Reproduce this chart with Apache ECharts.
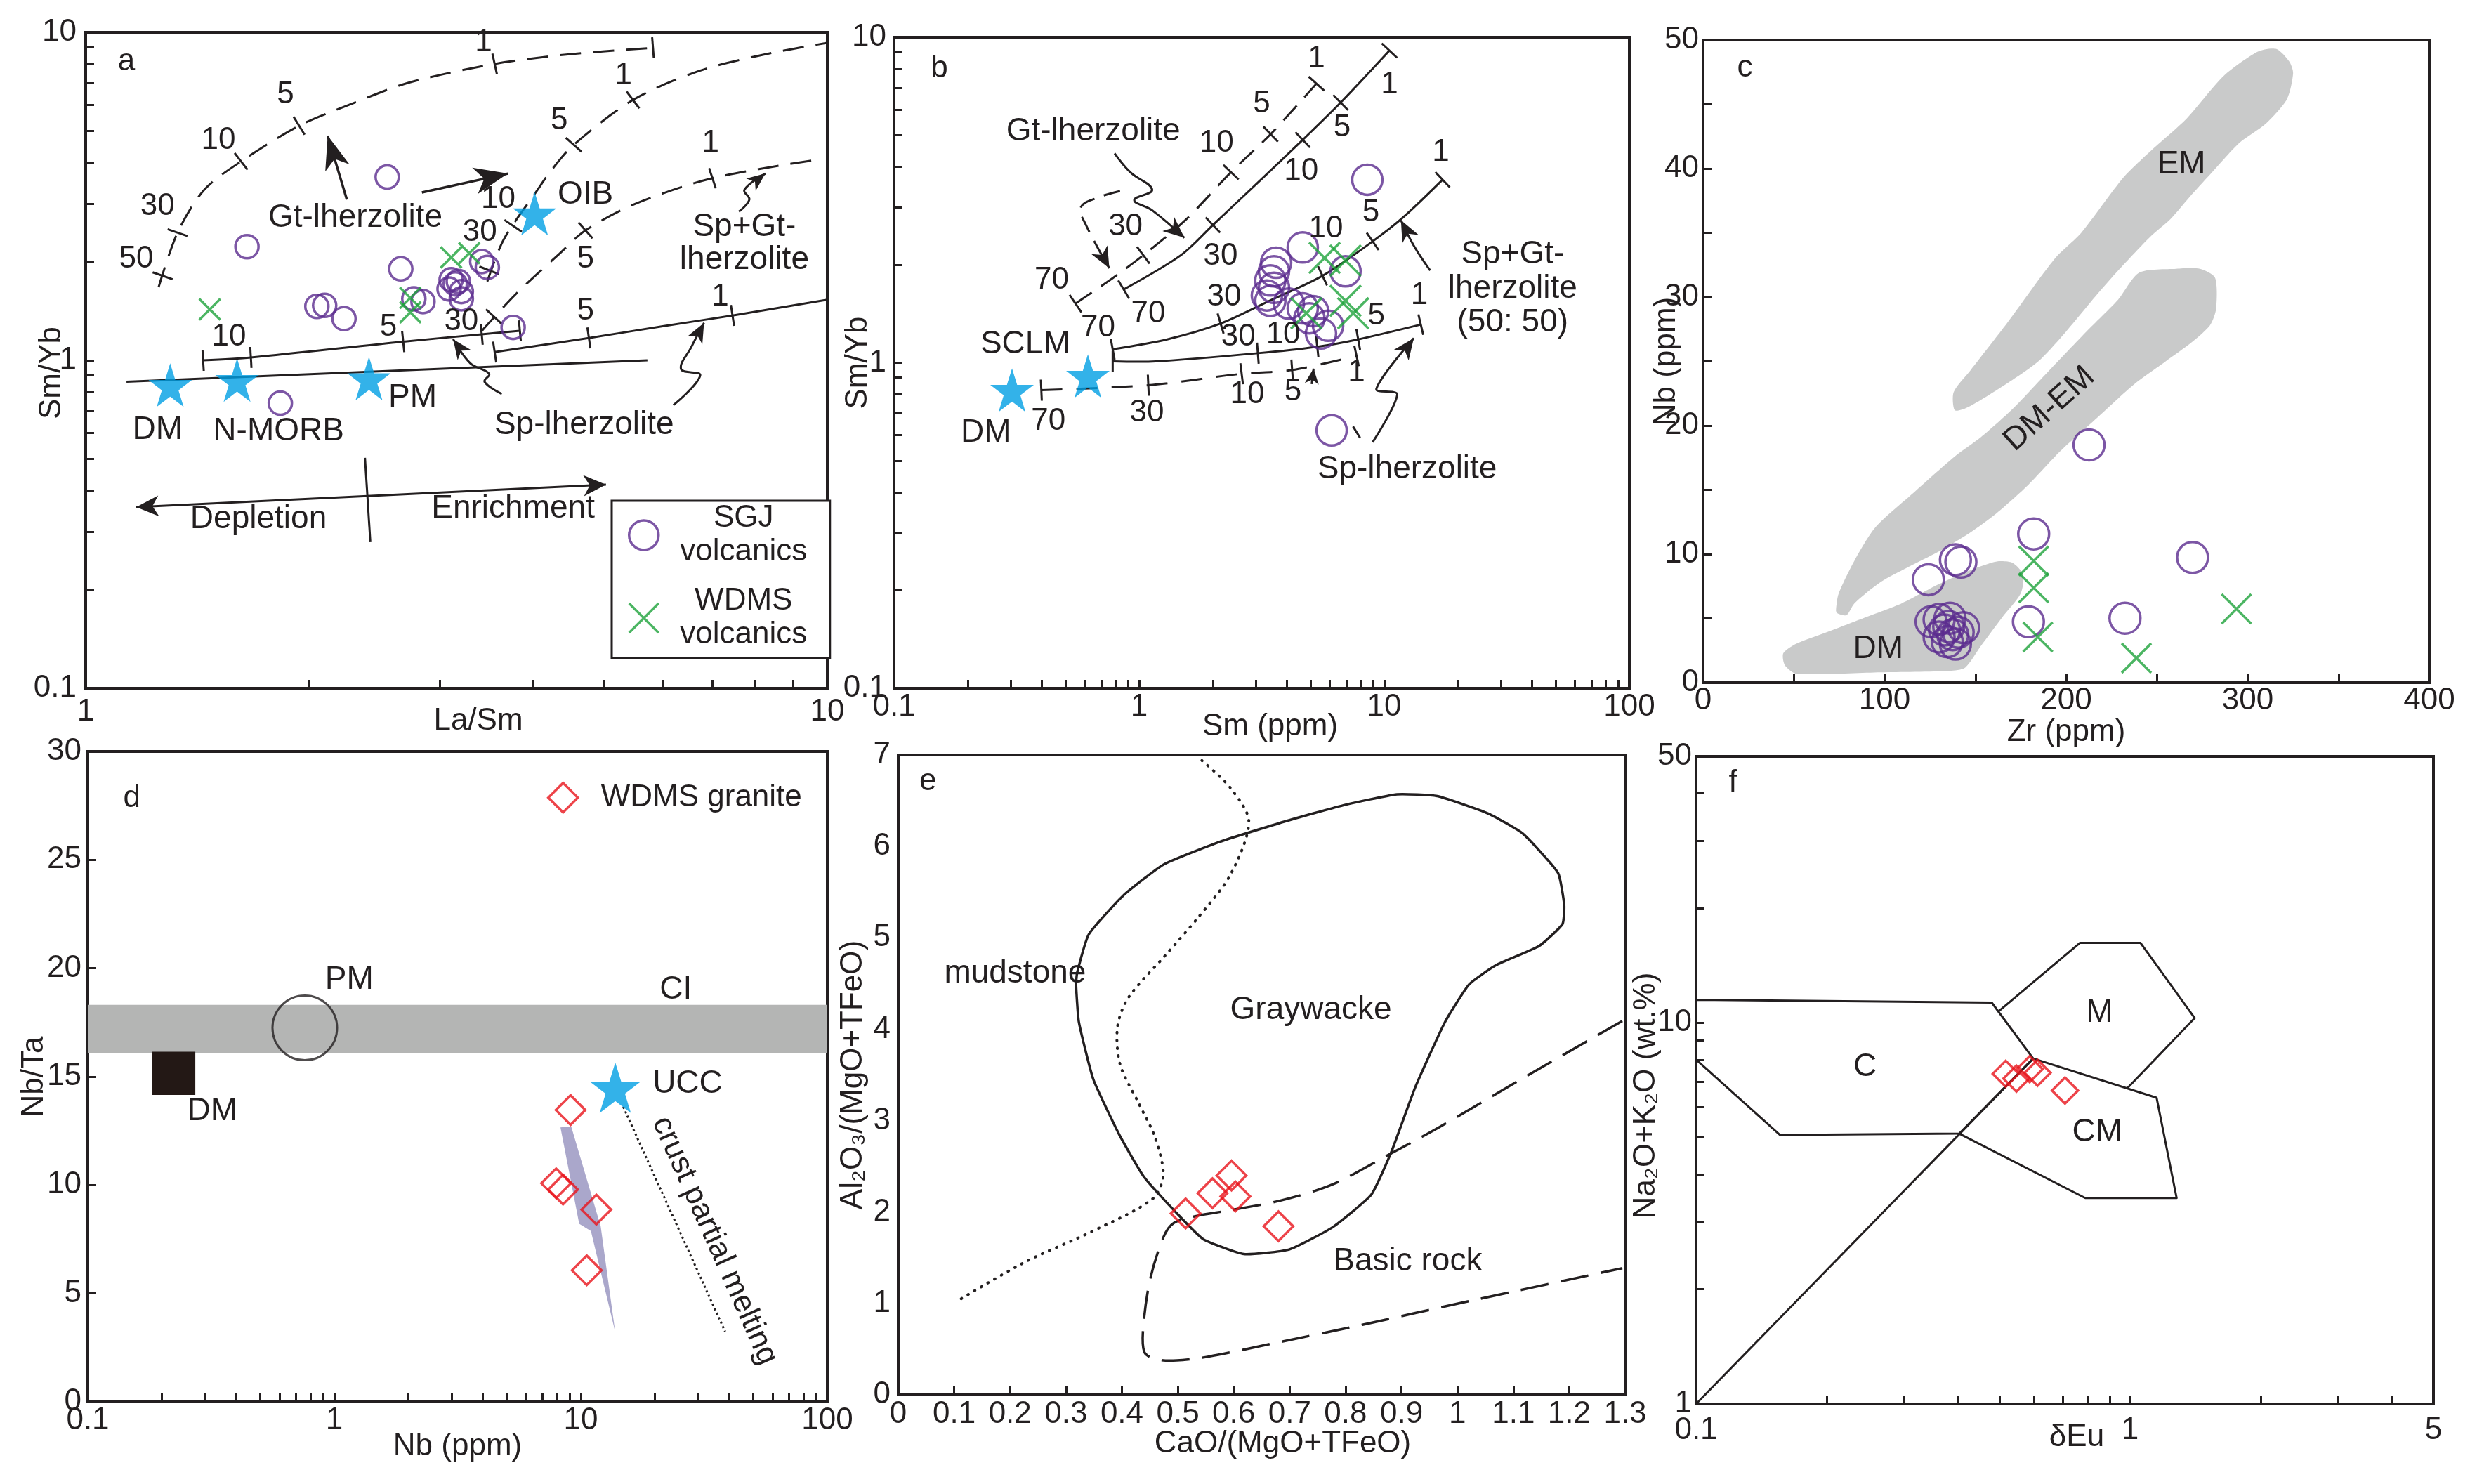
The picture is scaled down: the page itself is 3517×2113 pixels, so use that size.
<!DOCTYPE html>
<html><head><meta charset="utf-8"><title>Geochemical diagrams</title>
<script src="https://cdn.jsdelivr.net/npm/echarts@6.0.0/dist/echarts.min.js"></script>
<style>html,body{margin:0;padding:0;background:#fff;}#chart{width:3517px;height:2113px;}</style>
</head><body><div id="chart"></div>
<script>
// ================= DATA =================
// ---- Panel a : Sm/Yb vs La/Sm ----
const aXTicks = [1,2,3,4,5,6,7,8,9,10];
const aXLabels = [1,10];
const aYTicks = [0.1,0.2,0.3,0.4,0.5,0.6,0.7,0.8,0.9,1,2,3,4,5,6,7,8,9,10];
const aYLabels = [0.1,1,10];
const aSGJ = [[2.55,3.62],[1.65,2.22],[2.66,1.90],[2.05,1.46],[2.10,1.47],[2.23,1.34],[2.77,1.54],[2.85,1.51],[3.11,1.76],[3.18,1.74],[3.15,1.71],[3.09,1.65],[3.21,1.62],[3.21,1.54],[3.42,2.00],[3.48,1.92],[3.77,1.26],[1.83,0.74]];
const aWDMS = [[1.47,1.43],[3.11,2.06],[3.29,2.12],[2.74,1.55],[2.74,1.40]];
const aRefStars = [[1.30,0.84],[1.60,0.87],[2.41,0.88],[4.03,2.80]];
const aCurveGt = [[1.254,1.67],[1.33,2.45],[1.445,3.31],[1.62,4.04],[1.94,5.19],[2.27,6.02],[2.72,7.01],[3.56,8.01],[4.42,8.54],[5.82,8.97]];
const aTicksGt = [[1.27,1.81],[1.33,2.45],[1.62,4.04],[1.94,5.19],[3.56,8.01],[5.82,8.97]];
const aCurveMid = [[3.48,1.74],[3.66,2.33],[4.06,3.29],[4.25,3.81],[4.55,4.54],[5.47,6.22],[6.71,7.62],[8.19,8.54],[10,9.29]];
const aTicksMid = [[3.50,1.88],[3.77,2.57],[4.55,4.54],[5.47,6.22]];
const aCurveSpGt = [[3.41,1.22],[3.80,1.59],[4.35,2.11],[4.72,2.49],[5.49,2.99],[7.00,3.59],[9.84,4.11]];
const aTicksSpGt = [[3.55,1.36],[4.72,2.49],[7.00,3.59]];
const aCurveSp1 = [[1.44,1.00],[1.67,1.02],[2.68,1.14],[3.42,1.20],[3.85,1.23]];
const aTicksSp1 = [[1.44,1.00],[1.67,1.02],[2.68,1.14],[3.42,1.20],[3.85,1.23]];
const aCurveSp2 = [[3.56,1.06],[4.77,1.17],[6.0,1.27],[7.45,1.37],[10,1.53]];
const aTicksSp2 = [[3.56,1.06],[4.77,1.17],[7.45,1.37]];
const aMantle = [[1.135,0.86],[5.72,1.0]];
const aTrend = [[1.17,0.357],[5.03,0.418]];
const aTrendBar = [[2.38,0.504],[2.42,0.279]];
const aArrowGt = [[2.25,3.09],[2.12,4.84]];
const aArrowOIB = [[2.84,3.25],[3.71,3.71]];
const aArrowSp1 = [[3.64,0.79],[3.45,0.86],[3.50,0.91],[3.30,0.98],[3.13,1.16]];
const aArrowSp2 = [[6.20,0.73],[6.74,0.90],[6.35,0.94],[6.56,1.10],[6.82,1.30]];
const aArrowSpGt = [[7.60,2.84],[7.85,3.09],[7.73,3.31],[8.25,3.71]];
const aNumbers = [[3.44,9.29,'1'],[1.86,6.45,'5'],[1.51,4.69,'10'],[1.25,2.94,'30'],[1.17,2.04,'50'],
  [5.31,7.36,'1'],[4.35,5.37,'5'],[3.60,3.09,'10'],[3.40,2.45,'30'],[6.96,4.59,'1'],[4.72,2.04,'5'],
  [1.56,1.18,'10'],[2.56,1.26,'5'],[3.21,1.31,'30'],[4.72,1.41,'5'],[7.17,1.56,'1']];
const aTexts = [[2.31,2.72,'Gt-lherzolite'],[4.72,3.20,'OIB'],[7.73,2.55,'Sp+Gt-'],[7.73,2.02,'lherzolite'],
  [1.25,0.614,'DM'],[1.82,0.608,'N-MORB'],[2.76,0.768,'PM'],[4.70,0.635,'Sp-lherzolite'],
  [1.71,0.328,'Depletion'],[3.77,0.352,'Enrichment']];
const aTag = [[1.135,8.13,'a']];

// ---- Panel b : Sm/Yb vs Sm ----
const bXTicks = [0.1,0.2,0.3,0.4,0.5,0.6,0.7,0.8,0.9,1,2,3,4,5,6,7,8,9,10,20,30,40,50,60,70,80,90,100];
const bXLabels = [0.1,1,10,100];
const bYTicks = [0.1,0.2,0.3,0.4,0.5,0.6,0.7,0.8,0.9,1,2,3,4,5,6,7,8,9,10];
const bYLabels = [0.1,1,10];
const bSGJ = [[8.53,3.65],[4.65,2.26],[3.62,2.03],[3.55,1.91],[3.43,1.79],[3.55,1.70],[3.32,1.61],[3.43,1.55],[4.08,1.52],[4.65,1.47],[5.13,1.44],[4.95,1.37],[6.95,1.91],[5.90,1.30],[5.52,1.23],[6.10,0.62]];
const bWDMS = [[5.71,2.10],[6.95,2.06],[6.95,1.55],[7.47,1.42],[4.81,1.42]];
const bRefStars = [[0.303,0.824],[0.618,0.91]];
const bCurveGtDash = [[0.55,1.52],[0.78,1.82],[1.04,2.14],[1.55,2.75],[2.37,3.85],[3.44,5.04],[5.29,7.2]];
const bTicksGtDash = [[0.55,1.52],[1.04,2.14],[2.37,3.85],[3.44,5.04],[5.29,7.2]];
const bCurveGt = [[0.865,1.68],[1.48,2.14],[2.0,2.65],[3.2,3.7],[4.65,4.84],[6.64,6.3],[10.5,9.1]];
const bTicksGt = [[0.865,1.68],[2.0,2.65],[4.65,4.84],[6.64,6.3],[10.5,9.1]];
const bCurveSpGt = [[0.78,1.10],[1.3,1.18],[2.15,1.32],[3.4,1.55],[5.60,1.85],[8.97,2.36],[11.9,2.79],[17.3,3.65]];
const bTicksSpGt = [[0.78,1.10],[2.15,1.32],[5.60,1.85],[8.97,2.36],[17.3,3.65]];
const bCurveSp = [[0.78,1.01],[1.17,1.01],[3.05,1.07],[5.33,1.12],[7.83,1.18],[14.1,1.31]];
const bTicksSp = [[0.78,1.01],[3.05,1.07],[5.33,1.12],[7.83,1.18],[14.1,1.31]];
const bCurveDM = [[0.399,0.824],[1.09,0.853],[2.62,0.925],[4.21,0.95],[7.71,1.05]];
const bTicksDM = [[0.399,0.824],[1.09,0.853],[2.62,0.925],[4.21,0.95],[7.71,1.05]];
const bArrowGt = [[0.794,4.40],[0.92,3.85],[1.13,3.40],[0.955,3.16],[1.13,2.94],[1.53,2.42]];
const bArrowGtDash = [[0.836,3.37],[0.682,3.22],[0.578,3.0],[0.607,2.65],[0.756,1.95]];
const bArrowSpGt = [[15.4,1.92],[13.2,2.29],[11.7,2.74]];
const bArrowSp = [[8.97,0.57],[11.3,0.80],[9.28,0.83],[13.2,1.19]];
const bArrowSmall = [[5.06,0.86],[5.15,0.96]];
const bMarkSmall = [[7.46,0.637],[7.97,0.588]];
const bNumbers = [
  [0.44,1.79,'70'],[0.88,2.62,'30'],[2.07,4.73,'10'],[3.16,6.25,'5'],[5.29,8.6,'1'],
  [1.09,1.41,'70'],[2.15,2.12,'30'],[4.58,3.88,'10'],[6.73,5.26,'5'],[10.5,7.15,'1'],
  [0.68,1.28,'70'],[2.22,1.59,'30'],[5.78,2.58,'10'],[8.82,2.89,'5'],[17.0,4.44,'1'],
  [2.54,1.20,'30'],[3.87,1.22,'10'],[9.28,1.39,'5'],[13.9,1.61,'1'],
  [0.426,0.66,'70'],[1.075,0.70,'30'],[2.76,0.80,'10'],[4.24,0.815,'5'],[7.71,0.93,'1']];
const bTexts = [[0.65,5.12,'Gt-lherzolite'],[0.343,1.14,'SCLM'],[0.237,0.61,'DM'],
  [33.4,2.15,'Sp+Gt-'],[33.4,1.69,'lherzolite'],[33.4,1.33,'(50: 50)'],[12.4,0.47,'Sp-lherzolite']];
const bTag = [[0.153,8.0,'b']];

// ---- Panel c : Nb vs Zr ----
const cXTicks = [0,50,100,150,200,250,300,350,400];
const cXLabels = [0,100,200,300,400];
const cYTicks = [0,5,10,15,20,25,30,35,40,45,50];
const cYLabels = [0,10,20,30,40,50];
const cSGJ = [[212.6,18.5],[182.1,11.57],[269.6,9.74],[139,9.56],[142,9.38],[124.1,8.01],[179.2,4.74],[232.4,5.01],
  [125.6,4.74],[130,4.92],[136,5.01],[143.5,4.28],[133,4.10],[137.5,3.73],[134.5,3.19],[139,3.0],[130,3.55],[140.5,3.92],[135.3,4.37]];
const cWDMS = [[182.1,9.47],[182.1,7.38],[184.4,3.55],[238.7,1.91],[293.8,5.74]];
const cFieldEM = [[138.6,21.2],[138,22.6],[147.3,24.3],[167.6,28.0],[193.8,33.0],[208.3,35.0],[231.5,39.3],[246,41.3],[266.4,43.9],[286.7,47.2],[305.6,49.1],[315.8,49.3],[323,48.3],[325,47.4],[321.6,45.4],[310,43.5],[295.4,42.0],[280.9,39.8],[269.3,38.0],[257.7,36.1],[246,34.65],[228.6,32.06],[217,30.2],[199.6,27.26],[185,25.04],[170.5,23.56],[156,22.26],[144.4,21.34]];
const cFieldDMEM = [[73.2,5.62],[74.6,6.9],[83.4,9.5],[95,12.1],[115.3,14.7],[138.6,17.6],[153,19.1],[170.5,21.3],[188,23.9],[211,27.3],[228.6,29.8],[240.2,31.9],[260.6,32.2],[273.7,32.2],[282,31.5],[282.6,29.1],[279.2,27.8],[269.3,26.5],[254.8,25.0],[237.3,23.2],[217,20.6],[196.7,18.0],[179.2,15.4],[161.8,13.2],[147.3,11.7],[129.8,10.2],[112.4,8.95],[97.9,7.84],[83.4,6.18],[79,5.25],[74,5.4]];
const cFieldDM = [[44.2,2.29],[51.4,3.03],[68.8,3.96],[89.2,5.07],[109.5,6.18],[129.8,7.66],[147.3,8.76],[161.8,9.43],[170.5,9.32],[176.3,8.39],[174.9,6.92],[164.7,5.07],[153,2.85],[144.4,1.18],[135.7,0.92],[97.9,0.81],[51.4,0.70],[45,1.37]];
const cTexts = [[263.5,40.3,'EM'],[96.4,2.6,'DM']];
const cTextsRot = [[190.8,21.3,'DM-EM']];
const cTag = [[23,47.8,'c']];

// ---- Panel d : Nb/Ta vs Nb ----
const dXTicks = [0.1,0.2,0.3,0.4,0.5,0.6,0.7,0.8,0.9,1,2,3,4,5,6,7,8,9,10,20,30,40,50,60,70,80,90,100];
const dXLabels = [0.1,1,10,100];
const dYTicks = [0,5,10,15,20,25,30];
const dYLabels = [0,5,10,15,20,25,30];
const dGranite = [[9.09,13.46],[7.94,10.08],[8.47,9.79],[11.56,8.87],[10.57,6.07]];
const dUCC = [[13.8,14.49]];
const dPM = [[0.759,17.25]];
const dDMBox = [[0.182,14.16],[0.273,14.16],[0.273,16.15],[0.182,16.15]];
const dCIBand = [[0.1,16.1],[100,16.1],[100,18.31],[0.1,18.31]];
const dMeltLine = [[14.86,13.61],[38.5,3.24]];
const dTrendArrow = [[8.27,12.66],[9.14,12.71],[12.04,8.10],[13.78,3.24],[10.99,7.88],[9.85,8.21]];
const dTexts = [[1.15,19.46,'PM'],[24.3,19.0,'CI'],[0.32,13.4,'DM'],[27.1,14.67,'UCC']];
const dTextsRot = [[34.9,7.43,'crust partial melting']];
const dTag = [[0.151,27.84,'d']];

// ---- Panel e : Al2O3/(MgO+TFeO) vs CaO/(MgO+TFeO) ----
const eXTicks = [0,0.1,0.2,0.3,0.4,0.5,0.6,0.7,0.8,0.9,1,1.1,1.2,1.3];
const eXLabels = [0,0.1,0.2,0.3,0.4,0.5,0.6,0.7,0.8,0.9,1,1.1,1.2,1.3];
const eYLabels = [0,1,2,3,4,5,6,7];
const eGranite = [[0.514,1.985],[0.562,2.205],[0.596,2.40],[0.603,2.17],[0.680,1.844]];
const eGraywacke = [[0.320,4.62],[0.341,5.04],[0.402,5.46],[0.474,5.80],[0.575,6.05],[0.690,6.27],[0.796,6.45],[0.892,6.57],[0.964,6.55],[1.055,6.36],[1.117,6.14],[1.180,5.71],[1.191,5.36],[1.188,5.15],[1.146,4.91],[1.069,4.70],[1.021,4.49],[0.978,4.08],[0.925,3.37],[0.882,2.66],[0.846,2.19],[0.776,1.83],[0.699,1.59],[0.618,1.54],[0.546,1.70],[0.507,1.93],[0.440,2.38],[0.395,2.85],[0.349,3.45],[0.323,4.08],[0.318,4.49]];
const eMudstoneLine = [[0.543,6.94],[0.594,6.64],[0.627,6.27],[0.594,5.69],[0.536,5.22],[0.478,4.81],[0.411,4.34],[0.392,4.02],[0.397,3.61],[0.430,3.19],[0.459,2.82],[0.474,2.40],[0.454,2.14],[0.344,1.78],[0.229,1.46],[0.104,1.02]];
const eBasicLine = [[1.295,4.09],[1.113,3.45],[0.968,2.93],[0.872,2.61],[0.776,2.30],[0.680,2.12],[0.584,2.01],[0.536,1.96],[0.493,1.88],[0.474,1.72],[0.450,1.25],[0.438,0.73],[0.440,0.47],[0.459,0.39],[0.498,0.376],[0.555,0.418],[0.680,0.575],[0.824,0.758],[1.017,1.02],[1.295,1.385]];
const eTexts = [[0.209,4.61,'mudstone'],[0.738,4.21,'Graywacke'],[0.911,1.46,'Basic rock']];
const eTag = [[0.053,6.71,'e']];

// ---- Panel f : Na2O+K2O vs δEu ----
const fXTicks = [0.1,0.2,0.3,0.4,0.5,0.6,0.7,0.8,0.9,1,2,3,4,5];
const fXLabels = [0.1,1,5];
const fYTicks = [1,2,3,4,5,6,7,8,9,10,20,30,40,50];
const fYLabels = [1,10,50];
const fGranite = [[0.517,7.35],[0.547,7.14],[0.587,7.56],[0.612,7.39],[0.708,6.64]];
const fFieldC = [[0.1,11.5],[0.480,11.3],[0.598,8.06],[0.404,5.12],[0.156,5.08],[0.1,8.01]];
const fFieldM = [[0.499,10.75],[0.766,16.2],[1.057,16.2],[1.409,10.29],[0.986,6.74]];
const fFieldCM = [[0.598,8.06],[1.151,6.36],[1.28,3.47],[0.788,3.47],[0.404,5.12]];
const fDiagonal = [[0.1,1.0],[0.598,8.06]];
const fTexts = [[0.245,7.67,'C'],[0.85,10.6,'M'],[0.84,5.15,'CM']];
const fTag = [[0.1217,42.6,'f']];

// ================= STYLE / BUILD =================
const FONT = '"Liberation Sans", Arial, Helvetica, "DejaVu Sans", sans-serif';
const INK = '#231f20';
const PURPLE = '#5b2c8f';
const GREEN = '#1ea33b';
const BLUE = '#009fe3';
const RED = '#e8141b';
const GREY = '#c9caca';
const STAR = 'path://M50,0L61.2,34.5L97.6,34.5L68.2,55.9L79.4,90.5L50,69.1L20.6,90.5L31.8,55.9L2.4,34.5L38.8,34.5Z';
const XMARK = 'path://M0,0L20,20M20,0L0,20';

const grids = [
  {left:122, top:46, width:1056, height:934},
  {left:1273, top:53, width:1047, height:927},
  {left:2425, top:57, width:1034, height:915},
  {left:125, top:1070, width:1053, height:926},
  {left:1279, top:1075, width:1035, height:911},
  {left:2415, top:1077, width:1050, height:922}
];

function fmt(v){ return String(parseFloat(Number(v).toPrecision(6))); }

function axisCfg(gi, dim, o){
  const ax = {
    gridIndex: gi, type: o.log ? 'log' : 'value', min: o.min, max: o.max,
    position: dim === 'x' ? 'bottom' : 'left',
    name: o.name, nameLocation: 'middle', nameGap: o.nameGap, nameMoveOverlap: false,
    nameTextStyle: {fontSize: 44, fontFamily: FONT, color: INK, padding: o.namePad || 0},
    axisLine: {show: true, onZero: false, lineStyle: {color: INK, width: 4}},
    axisTick: {show: o.ticks !== null, inside: true, length: 12, lineStyle: {color: INK, width: 3}},
    axisLabel: {show: true, fontSize: 44, fontFamily: FONT, color: INK, margin: o.margin, customValues: o.labels, formatter: fmt, hideOverlap: false},
    splitLine: {show: false}, minorTick: {show: false}
  };
  if (o.log) ax.logBase = 10;
  if (o.ticks) ax.axisTick.customValues = o.ticks;
  return ax;
}

function cs(gi, anchor, render, z){
  return {type:'custom', coordinateSystem:'cartesian2d', xAxisIndex:gi, yAxisIndex:gi,
    data:[anchor], renderItem:render, silent:true, z: z || 3, animation:false};
}
function head(a, b, len, hw){
  const dx = b[0]-a[0], dy = b[1]-a[1]; const L = Math.hypot(dx, dy) || 1;
  const ux = dx/L, uy = dy/L, nx = -uy, ny = ux;
  const bx = b[0]-ux*len, by = b[1]-uy*len;
  const mx = b[0]-ux*len*0.72, my = b[1]-uy*len*0.72;
  return {type:'polygon', shape:{points:[[b[0],b[1]],[bx+nx*hw,by+ny*hw],[mx,my],[bx-nx*hw,by-ny*hw]]}, style:{fill:INK}};
}
function tickEl(P, c, len){
  let best = 0, bd = Infinity;
  for (let i = 0; i < P.length-1; i++){
    const a = P[i], b = P[i+1];
    const vx = b[0]-a[0], vy = b[1]-a[1];
    const t = Math.max(0, Math.min(1, ((c[0]-a[0])*vx + (c[1]-a[1])*vy) / (vx*vx+vy*vy || 1)));
    const px = a[0]+t*vx, py = a[1]+t*vy;
    const d = Math.hypot(c[0]-px, c[1]-py);
    if (d < bd){ bd = d; best = i; }
  }
  const a = P[best], b = P[best+1];
  const L = Math.hypot(b[0]-a[0], b[1]-a[1]) || 1;
  const nx = -(b[1]-a[1])/L, ny = (b[0]-a[0])/L;
  return {type:'line', shape:{x1:c[0]-nx*len/2, y1:c[1]-ny*len/2, x2:c[0]+nx*len/2, y2:c[1]+ny*len/2}, style:{stroke:INK, lineWidth:3}};
}
function pathSeries(gi, pts, o){
  o = o || {};
  return cs(gi, pts[0], function(params, api){
    const P = pts.map(p => api.coord(p));
    const ch = [];
    const st = {lineWidth: o.width || 3, lineJoin: 'round', lineCap: o.cap || 'butt'};
    if (o.fill){ st.fill = o.fill; } else { st.fill = 'none'; st.stroke = o.stroke || INK; }
    if (o.dash) st.lineDash = o.dash;
    if (o.fill || o.closed) ch.push({type:'polygon', shape:{points:P, smooth:o.smooth || 0}, style:st});
    else ch.push({type:'polyline', shape:{points:P, smooth:o.smooth || 0}, style:st});
    if (o.head) ch.push(head(P[P.length-2], P[P.length-1], o.head[0], o.head[1]));
    if (o.head2) ch.push(head(P[1], P[0], o.head2[0], o.head2[1]));
    if (o.ticks) o.ticks.forEach(t => ch.push(tickEl(P, api.coord(t), o.tickLen || 30)));
    return {type:'group', children:ch};
  }, o.z);
}
function textSeries(gi, arr, size, rotDeg){
  return {type:'custom', coordinateSystem:'cartesian2d', xAxisIndex:gi, yAxisIndex:gi, silent:true, z:6, animation:false,
    data: arr.map(t => [t[0], t[1]]),
    renderItem: function(params, api){
      const t = arr[params.dataIndex]; const c = api.coord([t[0], t[1]]);
      return {type:'text', x:c[0], y:c[1], rotation:(rotDeg || 0)*Math.PI/180,
        style:{text:t[2], fontSize:size, fontFamily:FONT, fill:INK, align:'center', verticalAlign:'middle'}};
    }};
}
function sc(gi, name, data, symbol, size, color, bw){
  return {type:'scatter', name:name, xAxisIndex:gi, yAxisIndex:gi, data:data, symbol:symbol, symbolSize:size,
    itemStyle:{color:'rgba(0,0,0,0)', borderColor:color, borderWidth: bw || 3.5}, z:5, silent:true, animation:false};
}
function scFill(gi, name, data, symbol, size, color){
  return {type:'scatter', name:name, xAxisIndex:gi, yAxisIndex:gi, data:data, symbol:symbol, symbolSize:size,
    itemStyle:{color:color}, z:5, silent:true, animation:false};
}

const xAxes = [
  axisCfg(0,'x',{log:true, min:1, max:10, ticks:aXTicks, labels:aXLabels, name:'La/Sm', nameGap:25, namePad:[0,0,0,62], margin:12}),
  axisCfg(1,'x',{log:true, min:0.1, max:100, ticks:bXTicks, labels:bXLabels, name:'Sm (ppm)', nameGap:33, namePad:[0,0,0,24], margin:5}),
  axisCfg(2,'x',{min:0, max:400, ticks:cXTicks, labels:cXLabels, name:'Zr (ppm)', nameGap:49, margin:4}),
  axisCfg(3,'x',{log:true, min:0.1, max:100, ticks:dXTicks, labels:dXLabels, name:'Nb (ppm)', nameGap:42, margin:5}),
  axisCfg(4,'x',{min:0, max:1.3, ticks:eXTicks, labels:eXLabels, name:'CaO/(MgO+TFeO)', nameGap:48, namePad:[0,0,0,60], margin:6}),
  axisCfg(5,'x',{log:true, min:0.1, max:5, ticks:fXTicks, labels:fXLabels, name:'δEu', nameGap:26, namePad:[0,0,0,34], margin:16})
];
const yAxes = [
  axisCfg(0,'y',{log:true, min:0.1, max:10, ticks:aYTicks, labels:aYLabels, name:'Sm/Yb', nameGap:26, namePad:[0,36,0,0], margin:13}),
  axisCfg(1,'y',{log:true, min:0.1, max:10, ticks:bYTicks, labels:bYLabels, name:'Sm/Yb', nameGap:29, margin:11}),
  axisCfg(2,'y',{min:0, max:50, ticks:cYTicks, labels:cYLabels, name:'Nb (ppm)', nameGap:30, margin:6}),
  axisCfg(3,'y',{min:0, max:30, ticks:dYTicks, labels:dYLabels, name:'Nb/Ta', nameGap:54, margin:9}),
  axisCfg(4,'y',{min:0, max:7, ticks:null, labels:eYLabels, name:'Al₂O₃/(MgO+TFeO)', nameGap:42, margin:11}),
  axisCfg(5,'y',{log:true, min:1, max:50, ticks:fYTicks, labels:fYLabels, name:'Na₂O+K₂O (wt.%)', nameGap:49, namePad:[0,44,0,0], margin:6})
];

const DASH = [30, 17];
const series = [];
// ---- a ----
series.push(pathSeries(0, aCurveGt, {dash:DASH, smooth:0.3, ticks:aTicksGt}));
series.push(pathSeries(0, aCurveMid, {dash:DASH, smooth:0.3, ticks:aTicksMid}));
series.push(pathSeries(0, aCurveSpGt, {dash:DASH, smooth:0.3, ticks:aTicksSpGt}));
series.push(pathSeries(0, aCurveSp1, {smooth:0.3, ticks:aTicksSp1}));
series.push(pathSeries(0, aCurveSp2, {smooth:0.3, ticks:aTicksSp2}));
series.push(pathSeries(0, aMantle, {}));
series.push(pathSeries(0, aTrend, {head:[32,15], head2:[32,15]}));
series.push(pathSeries(0, aTrendBar, {}));
series.push(pathSeries(0, aArrowGt, {head:[48,18], width:3.5}));
series.push(pathSeries(0, aArrowOIB, {head:[48,19], width:3.5}));
series.push(pathSeries(0, aArrowSp1, {head:[28,12], smooth:0.4}));
series.push(pathSeries(0, aArrowSp2, {head:[28,12], smooth:0.4}));
series.push(pathSeries(0, aArrowSpGt, {head:[26,11], smooth:0.4}));
series.push(scFill(0, 'ref-a', aRefStars, STAR, 62, BLUE));
series.push(sc(0, 'SGJ volcanics', aSGJ, 'circle', 33, PURPLE));
series.push(sc(0, 'WDMS volcanics', aWDMS, XMARK, 30, GREEN));
series.push(textSeries(0, aNumbers, 44));
series.push(textSeries(0, aTexts, 46));
series.push(textSeries(0, aTag, 44));
// ---- b ----
series.push(pathSeries(1, bCurveGtDash, {dash:[28,16], smooth:0.3, ticks:bTicksGtDash}));
series.push(pathSeries(1, bCurveGt, {smooth:0.3, ticks:bTicksGt}));
series.push(pathSeries(1, bCurveSpGt, {smooth:0.3, ticks:bTicksSpGt}));
series.push(pathSeries(1, bCurveSp, {smooth:0.3, ticks:bTicksSp}));
series.push(pathSeries(1, bCurveDM, {dash:[30,20], smooth:0.3, ticks:bTicksDM}));
series.push(pathSeries(1, bArrowGt, {head:[30,13], smooth:0.4}));
series.push(pathSeries(1, bArrowGtDash, {head:[30,13], smooth:0.4, dash:[24,14]}));
series.push(pathSeries(1, bArrowSpGt, {head:[30,13], smooth:0.4}));
series.push(pathSeries(1, bArrowSp, {head:[30,13], smooth:0.3}));
series.push(pathSeries(1, bArrowSmall, {head:[22,10]}));
series.push(pathSeries(1, bMarkSmall, {}));
series.push(scFill(1, 'ref-b', bRefStars, STAR, 62, BLUE));
series.push(sc(1, 'SGJ volcanics', bSGJ, 'circle', 43, PURPLE));
series.push(sc(1, 'WDMS volcanics', bWDMS, XMARK, 44, GREEN));
series.push(textSeries(1, bNumbers, 44));
series.push(textSeries(1, bTexts, 46));
series.push(textSeries(1, bTag, 44));
// ---- c ----
series.push(pathSeries(2, cFieldEM, {fill:GREY, smooth:0.25, z:1}));
series.push(pathSeries(2, cFieldDMEM, {fill:GREY, smooth:0.25, z:1}));
series.push(pathSeries(2, cFieldDM, {fill:GREY, smooth:0.25, z:1}));
series.push(sc(2, 'SGJ volcanics', cSGJ, 'circle', 44, PURPLE));
series.push(sc(2, 'WDMS volcanics', cWDMS, XMARK, 42, GREEN));
series.push(textSeries(2, cTexts, 46));
series.push(textSeries(2, cTextsRot, 46, 42));
series.push(textSeries(2, cTag, 44));
// ---- d ----
series.push(pathSeries(3, dCIBand, {fill:'#b4b5b4', z:1}));
series.push(pathSeries(3, dDMBox, {fill:'#231815', z:2}));
series.push(pathSeries(3, dTrendArrow, {fill:'#aaa7cb', z:2}));
series.push(pathSeries(3, dMeltLine, {dash:[3,4], width:3}));
series.push(sc(3, 'PM-d', dPM, 'circle', 92, INK, 3));
series.push(scFill(3, 'UCC', dUCC, STAR, 72, BLUE));
series.push(sc(3, 'WDMS granite', dGranite, 'diamond', 42, RED));
series.push(textSeries(3, dTexts, 46));
series.push(textSeries(3, dTextsRot, 44, -66));
series.push(textSeries(3, dTag, 44));
// ---- e ----
series.push(pathSeries(4, eGraywacke, {closed:true, smooth:0.15, width:3.5}));
series.push(pathSeries(4, eMudstoneLine, {dash:[1,10], cap:'round', width:4, smooth:0.3}));
series.push(pathSeries(4, eBasicLine, {dash:[40,18], smooth:0.3, width:3.5}));
series.push(sc(4, 'WDMS granite', eGranite, 'diamond', 42, RED));
series.push(textSeries(4, eTexts, 46));
series.push(textSeries(4, eTag, 44));
// ---- f ----
series.push(pathSeries(5, fFieldC, {closed:true}));
series.push(pathSeries(5, fFieldM, {}));
series.push(pathSeries(5, fFieldCM, {}));
series.push(pathSeries(5, fDiagonal, {}));
series.push(sc(5, 'WDMS granite', fGranite, 'diamond', 37, RED));
series.push(textSeries(5, fTexts, 46));
series.push(textSeries(5, fTag, 44));

const option = {
  animation: false,
  backgroundColor: '#ffffff',
  textStyle: {fontFamily: FONT},
  grid: grids.map(g => Object.assign({show:true, borderColor:INK, borderWidth:4, backgroundColor:'rgba(0,0,0,0)', containLabel:false}, g)),
  xAxis: xAxes,
  yAxis: yAxes,
  legend: [
    {left:871, top:713, orient:'vertical', data:['SGJ volcanics','WDMS volcanics'], itemWidth:42, itemHeight:42, itemGap:26,
     padding:[3,7,11,23], borderColor:INK, borderWidth:3, backgroundColor:'#fff', selectedMode:false, itemStyle:{borderWidth:3.5},
     formatter: function(n){ const p = n.split(' '); return '{c|' + p[0] + '}\n{c|' + p[1] + '}'; },
     textStyle:{color:INK, fontFamily:FONT, fontSize:44, rich:{c:{width:232, align:'center', fontSize:44, lineHeight:48, fontFamily:FONT, color:INK}}}},
    {left:779, top:1113, orient:'horizontal', data:['WDMS granite'], itemWidth:42, itemHeight:42, padding:0, selectedMode:false,
     itemStyle:{borderWidth:3.5},
     formatter: function(n){ return '{t|' + n + '}'; },
     textStyle:{color:INK, fontFamily:FONT, fontSize:44, rich:{t:{padding:[0,0,0,28], fontSize:44, fontFamily:FONT, color:INK}}}}
  ],
  series: series
};
const chart = echarts.init(document.getElementById('chart'), null, {renderer:'canvas'});
chart.setOption(option);
</script></body></html>
